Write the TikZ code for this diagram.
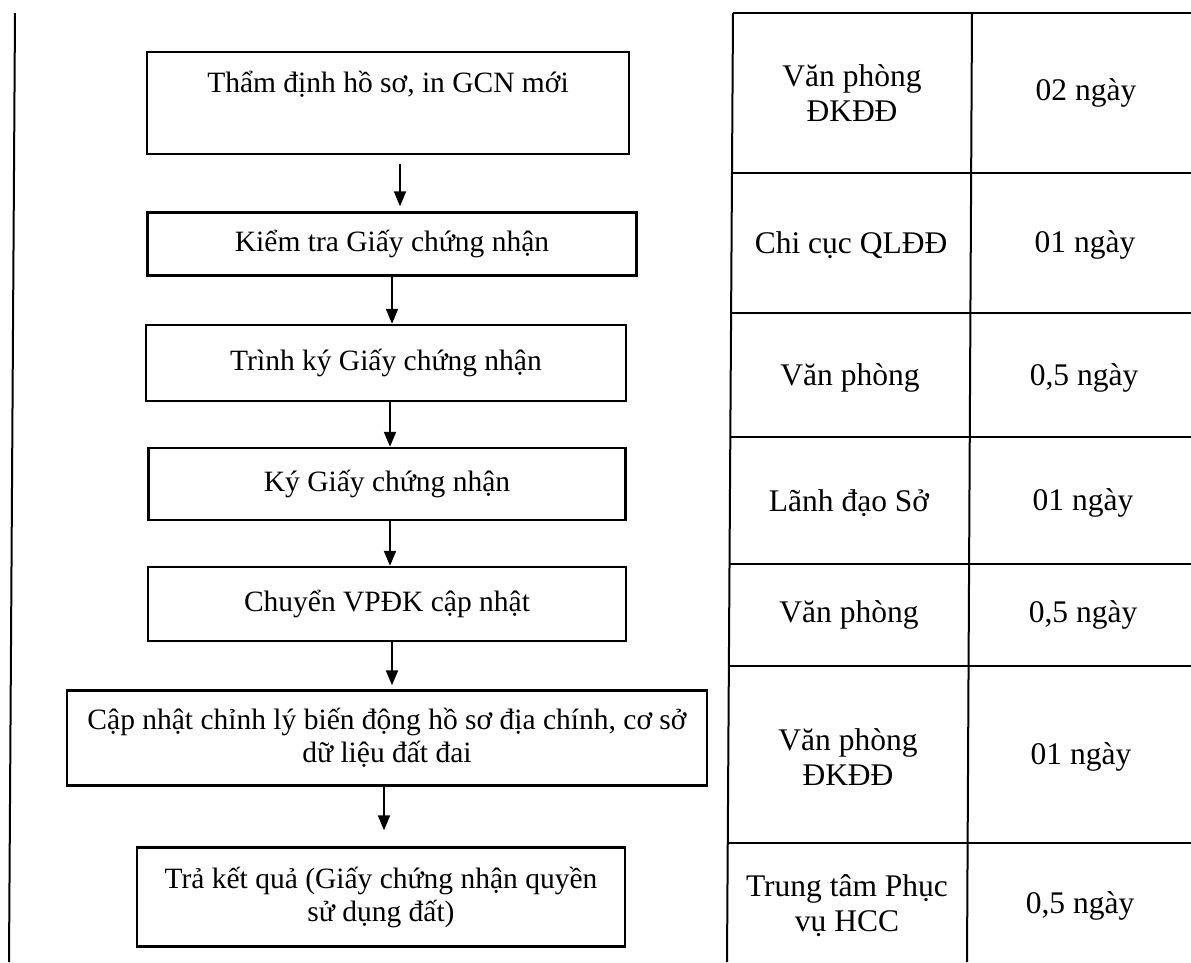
\documentclass[tikz,border=0pt]{standalone}
\usepackage{fontspec}
\setmainfont{Liberation Serif}
\usepackage{tikz}
\usetikzlibrary{arrows.meta,positioning}

\tikzset{
  stepbox/.style={draw, line width=2.4pt, align=center, inner sep=4pt,
    font=\fontsize{29.5}{33}\selectfont},
  celltext/.style={align=center, font=\fontsize{31.5}{35}\selectfont},
  arr/.style={line width=2pt, -{Triangle[length=15pt,width=12pt]}},
  rule/.style={line width=2pt}
}

\begin{document}
\begin{tikzpicture}[x=1pt,y=-1pt]
\useasboundingbox (0,0) rectangle (1191,962);
% margin line
\draw[rule] (15,13) -- (9,962);

% flow steps
\node[stepbox, minimum width=482pt, minimum height=102pt] (b1) at (388,103) {Thẩm định hồ sơ, in GCN mới\\\strut};
\node[stepbox, minimum width=489pt, minimum height=63pt] (b2) at (392,244) {Kiểm tra Giấy chứng nhận};
\node[stepbox, minimum width=480pt, minimum height=76pt] (b3) at (386,363) {Trình ký Giấy chứng nhận};
\node[stepbox, minimum width=477pt, minimum height=72pt] (b4) at (387,484) {Ký Giấy chứng nhận};
\node[stepbox, minimum width=478pt, minimum height=74pt] (b5) at (387,604) {Chuyển VPĐK cập nhật};
\node[stepbox, minimum width=640pt, minimum height=95pt] (b6) at (387,738) {Cập nhật chỉnh lý biến động hồ sơ địa chính, cơ sở\\dữ liệu đất đai};
\node[stepbox, minimum width=488pt, minimum height=99pt] (b7) at (381,897) {Trả kết quả (Giấy chứng nhận quyền\\sử dụng đất)};

% arrows between steps
\foreach \u/\v/\x/\s/\e in {b1/b2/400/9/5, b2/b3/392/0/0, b3/b4/390/0/0, b4/b5/390/0/0, b5/b6/392/0/4, b6/b7/384/0/16}
  \draw[arr, shorten <=\s pt, shorten >=\e pt] (\u.south -| \x,0) -- (\v.north -| \x,0);

% table grid
\draw[rule] (733,13) -- (727,962);
\draw[rule] (972,13) -- (967,962);
\foreach \y in {13,173,313,437,564,666,843}
  \draw[rule] ({733-0.0063*\y},\y) -- (1191,\y);

% who does it
\node[celltext] (u1) at (852,93) {Văn phòng\\ĐKĐĐ};
\node[celltext] (u2) at (851,245) {Chi cục QLĐĐ};
\node[celltext] (u3) at (850,378) {Văn phòng};
\node[celltext] (u4) at (849,503) {Lãnh đạo Sở};
\node[celltext] (u5) at (849,615) {Văn phòng};
\node[celltext] (u6) at (848,757) {Văn phòng\\ĐKĐĐ};
\node[celltext] (u7) at (847,906) {Trung tâm Phục\\vụ HCC};

% time
\node[celltext] (t1) at (1086,93) {02 ngày};
\node[celltext] (t2) at (1085,245) {01 ngày};
\node[celltext] (t3) at (1084,378) {0,5 ngày};
\node[celltext] (t4) at (1083,503) {01 ngày};
\node[celltext] (t5) at (1083,615) {0,5 ngày};
\node[celltext] (t6) at (1081,757) {01 ngày};
\node[celltext] (t7) at (1080,906) {0,5 ngày};
\end{tikzpicture}
\end{document}
